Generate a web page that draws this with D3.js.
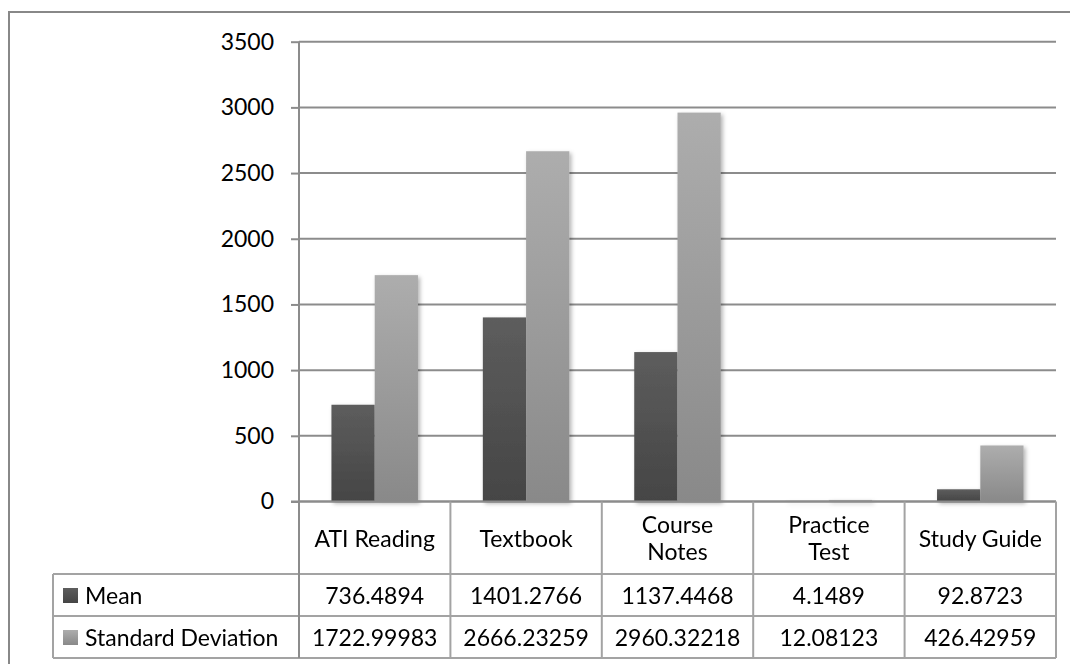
<!DOCTYPE html>
<html>
<head>
<meta charset="utf-8">
<script src="https://cdn.jsdelivr.net/npm/d3@7"></script>
<style>
  html, body { margin: 0; padding: 0; background: #fff; }
  svg { display: block; }
  text { font-family: Lato, "Open Sans", sans-serif; fill: #000; }
</style>
</head>
<body>
<svg id="chart" width="1070" height="664"></svg>
<script>
const categories = ["ATI Reading", "Textbook", "Course Notes", "Practice Test", "Study Guide"];
const categoryLines = [["ATI Reading"], ["Textbook"], ["Course", "Notes"], ["Practice", "Test"], ["Study Guide"]];
const seriesNames = ["Mean", "Standard Deviation"];
const meanValues = [736.4894, 1401.2766, 1137.4468, 4.1489, 92.8723];
const sdValues = [1722.99983, 2666.23259, 2960.32218, 12.08123, 426.42959];
const meanLabels = ["736.4894", "1401.2766", "1137.4468", "4.1489", "92.8723"];
const sdLabels = ["1722.99983", "2666.23259", "2960.32218", "12.08123", "426.42959"];
const yTicks = [0, 500, 1000, 1500, 2000, 2500, 3000, 3500];

(function () {
const svg = d3.select("#chart");
const FS = 23;
const lineCol = "#8c8c8c";
const tableCol = "#a3a3a3";

const plotLeft = 299, plotRight = 1056, plotTop = 41.7, zeroY = 501.5;
const legendLeft = 53;
const row1 = 574, row2 = 616, row3 = 658;

const defs = svg.append("defs");
function grad(id, c1, c2) {
  const g = defs.append("linearGradient").attr("id", id).attr("x1", 0).attr("y1", 0).attr("x2", 0).attr("y2", 1);
  g.append("stop").attr("offset", "0%").attr("stop-color", c1);
  g.append("stop").attr("offset", "100%").attr("stop-color", c2);
}
grad("gMean", "#5d5d5d", "#454545");
grad("gSd", "#adadad", "#898989");
const f = defs.append("filter").attr("id", "shadow").attr("x", "-20%").attr("y", "-20%").attr("width", "150%").attr("height", "150%");
f.append("feDropShadow").attr("dx", 2).attr("dy", 2).attr("stdDeviation", 2).attr("flood-color", "#000").attr("flood-opacity", 0.3);

svg.append("path").attr("d", "M9,670 L9,12 L1075,12").attr("fill", "none").attr("stroke", "#888").attr("stroke-width", 2);

const y = d3.scaleLinear().domain([0, 3500]).range([zeroY, plotTop]);
const x0 = d3.scaleBand().domain(categories).range([plotLeft, plotRight]).padding(0);
const x1 = d3.scaleBand().domain(seriesNames).range([0, x0.bandwidth()]).paddingInner(0).paddingOuter(0.75);

const yAxis = d3.axisLeft(y).tickValues(yTicks).tickSize(8).tickPadding(17).tickFormat(d => String(d));
const gAxis = svg.append("g").attr("transform", `translate(${plotLeft},0)`).call(yAxis);
gAxis.select(".domain").remove();
gAxis.selectAll(".tick line").attr("stroke", lineCol).attr("stroke-width", 2);
gAxis.selectAll(".tick text").attr("font-size", FS).attr("font-family", "Lato").attr("fill", "#000");
svg.append("g").selectAll("line").data(yTicks).join("line")
  .attr("x1", plotLeft).attr("x2", plotRight).attr("y1", d => y(d)).attr("y2", d => y(d))
  .attr("stroke", lineCol).attr("stroke-width", 2);

const data = categories.map((c, i) => ({ c, vals: [
  { s: "Mean", v: meanValues[i], fill: "url(#gMean)" },
  { s: "Standard Deviation", v: sdValues[i], fill: "url(#gSd)" }
]}));
const gBars = svg.append("g").attr("filter", "url(#shadow)");
gBars.selectAll("g").data(data).join("g").attr("transform", d => `translate(${x0(d.c)},0)`)
  .selectAll("rect").data(d => d.vals).join("rect")
  .attr("x", d => x1(d.s)).attr("width", x1.bandwidth())
  .attr("y", d => y(d.v)).attr("height", d => zeroY - y(d.v))
  .attr("fill", d => d.fill);

svg.append("line").attr("x1", plotLeft - 8).attr("x2", plotRight).attr("y1", zeroY).attr("y2", zeroY)
  .attr("stroke", lineCol).attr("stroke-width", 2);

const gT = svg.append("g").attr("stroke", tableCol).attr("stroke-width", 2);
svg.append("line").attr("x1", plotLeft).attr("x2", plotLeft).attr("y1", plotTop).attr("y2", row3)
  .attr("stroke", lineCol).attr("stroke-width", 2);
const bounds = categories.map(c => x0(c) + x0.bandwidth());
gT.selectAll("line.v").data(bounds).join("line").attr("class", "v")
  .attr("x1", d => d).attr("x2", d => d).attr("y1", zeroY).attr("y2", row3);
[row1, row2, row3].forEach(r => gT.append("line").attr("x1", legendLeft).attr("x2", plotRight).attr("y1", r).attr("y2", r));
gT.append("line").attr("x1", legendLeft).attr("x2", legendLeft).attr("y1", row1).attr("y2", row3);

const gC = svg.append("g");
categories.forEach((c, i) => {
  const lines = categoryLines[i];
  const cx = x0(c) + x0.bandwidth() / 2;
  const cy = (zeroY + row1) / 2;
  const lh = 27;
  const t = gC.append("text").attr("text-anchor", "middle").attr("font-size", FS).attr("dominant-baseline", "central");
  lines.forEach((l, j) => {
    t.append("tspan").attr("x", cx).attr("y", cy + (j - (lines.length - 1) / 2) * lh).text(l);
  });
});

function valueRow(labels, r0, r1) {
  svg.append("g").selectAll("text").data(labels).join("text")
    .attr("x", (d, i) => x0(categories[i]) + x0.bandwidth() / 2)
    .attr("y", (r0 + r1) / 2)
    .attr("text-anchor", "middle").attr("dominant-baseline", "central")
    .attr("font-size", FS).text(d => d);
}
valueRow(meanLabels, row1, row2);
valueRow(sdLabels, row2, row3);

const legendRows = [{ n: seriesNames[0], fill: "url(#gMean)", r0: row1, r1: row2 }, { n: seriesNames[1], fill: "url(#gSd)", r0: row2, r1: row3 }];
legendRows.forEach(l => {
  const cy = (l.r0 + l.r1) / 2;
  svg.append("rect").attr("x", 63).attr("y", cy - 7).attr("width", 15).attr("height", 15).attr("fill", l.fill);
  svg.append("text").attr("x", 85).attr("y", cy).attr("dominant-baseline", "central").attr("font-size", FS).text(l.n);
});
})();
</script>
</body>
</html>
